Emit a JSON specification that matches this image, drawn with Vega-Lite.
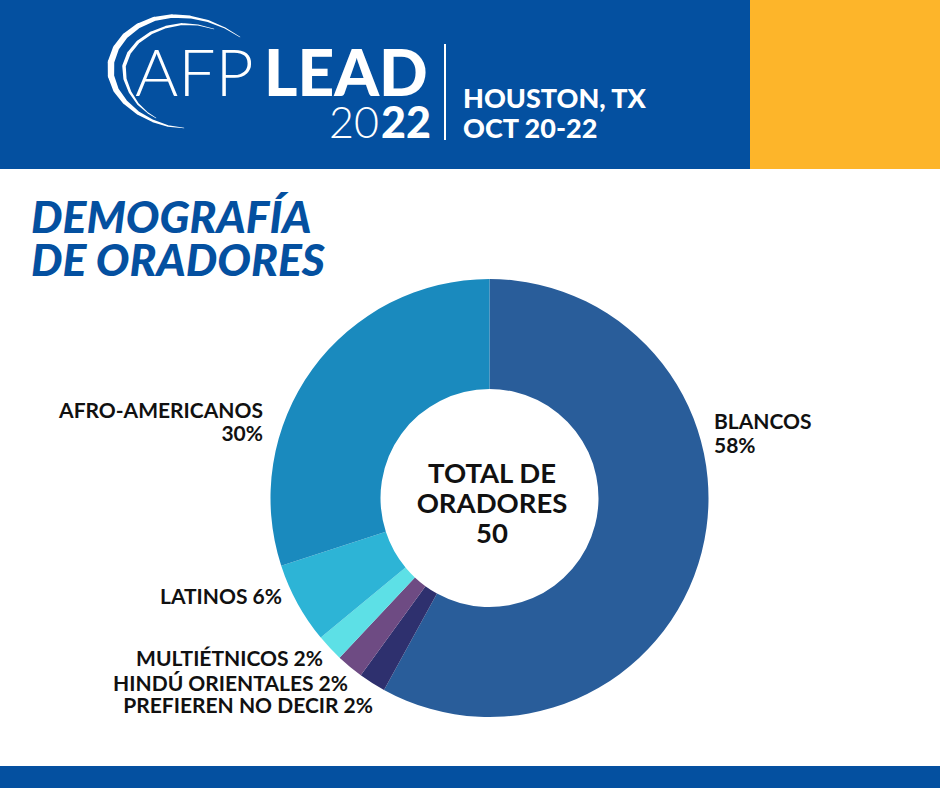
{
"$schema": "https://vega.github.io/schema/vega-lite/v6.json",
"width": 940, "height": 788,
"autosize": {"type": "fit", "contains": "padding"},
"padding": 0,
"background": "white",
"config": {"view": {"stroke": null}, "font": "Lato", "axis": {"disable": true}},
"datasets": {
 "oradores": [
  {"grupo": "BLANCOS", "valor": 0.58, "orden": 1, "etiqueta": ["BLANCOS", "58%"]},
  {"grupo": "PREFIEREN NO DECIR", "valor": 0.02, "orden": 2, "etiqueta": "PREFIEREN NO DECIR 2%"},
  {"grupo": "HINDÚ ORIENTALES", "valor": 0.02, "orden": 3, "etiqueta": "HINDÚ ORIENTALES 2%"},
  {"grupo": "MULTIÉTNICOS", "valor": 0.02, "orden": 4, "etiqueta": "MULTIÉTNICOS 2%"},
  {"grupo": "LATINOS", "valor": 0.06, "orden": 5, "etiqueta": "LATINOS 6%"},
  {"grupo": "AFRO-AMERICANOS", "valor": 0.30, "orden": 6, "etiqueta": ["AFRO-AMERICANOS", "30%"]}
 ],
 "logo": [
  {"trazo": "a", "i": 1, "px": 240, "py": 37, "w": 0.5},
  {"trazo": "a", "i": 2, "px": 225, "py": 28, "w": 1.2},
  {"trazo": "a", "i": 3, "px": 208, "py": 21, "w": 2},
  {"trazo": "a", "i": 4, "px": 190, "py": 17, "w": 2.8},
  {"trazo": "a", "i": 5, "px": 172, "py": 16, "w": 3.5},
  {"trazo": "a", "i": 6, "px": 154, "py": 19, "w": 4.2},
  {"trazo": "a", "i": 7, "px": 138, "py": 26, "w": 5},
  {"trazo": "a", "i": 8, "px": 125, "py": 36, "w": 5.6},
  {"trazo": "a", "i": 9, "px": 116, "py": 48, "w": 6.2},
  {"trazo": "a", "i": 10, "px": 111, "py": 62, "w": 6.5},
  {"trazo": "a", "i": 11, "px": 111, "py": 76, "w": 6.3},
  {"trazo": "a", "i": 12, "px": 116, "py": 90, "w": 5.6},
  {"trazo": "a", "i": 13, "px": 125, "py": 102, "w": 4.6},
  {"trazo": "a", "i": 14, "px": 138, "py": 113, "w": 3.5},
  {"trazo": "a", "i": 15, "px": 153, "py": 121, "w": 2.4},
  {"trazo": "a", "i": 16, "px": 168, "py": 126, "w": 1.4},
  {"trazo": "a", "i": 17, "px": 184, "py": 128, "w": 0.5},
  {"trazo": "b", "i": 1, "px": 214, "py": 29, "w": 0.5},
  {"trazo": "b", "i": 2, "px": 198, "py": 25, "w": 1.2},
  {"trazo": "b", "i": 3, "px": 182, "py": 24, "w": 1.8},
  {"trazo": "b", "i": 4, "px": 166, "py": 27, "w": 2.4},
  {"trazo": "b", "i": 5, "px": 151, "py": 33, "w": 2.8},
  {"trazo": "b", "i": 6, "px": 138, "py": 42, "w": 3.2},
  {"trazo": "b", "i": 7, "px": 129, "py": 53, "w": 3.5},
  {"trazo": "b", "i": 8, "px": 124, "py": 66, "w": 3.5},
  {"trazo": "b", "i": 9, "px": 125, "py": 79, "w": 3.2},
  {"trazo": "b", "i": 10, "px": 130, "py": 92, "w": 2.6},
  {"trazo": "b", "i": 11, "px": 138, "py": 104, "w": 1.8},
  {"trazo": "b", "i": 12, "px": 148, "py": 113, "w": 1},
  {"trazo": "b", "i": 13, "px": 156, "py": 118, "w": 0.5}
 ]
},
"layer": [
 {
  "data": {"values": [{}]},
  "mark": {"type": "rect", "color": "#0450A0"},
  "encoding": {
   "x": {"datum": 0, "type": "quantitative", "scale": {"domain": [0, 940], "nice": false, "zero": false}},
   "x2": {"datum": 750},
   "y": {"datum": 0, "type": "quantitative", "scale": {"domain": [0, 788], "nice": false, "zero": false, "reverse": true}},
   "y2": {"datum": 169}
  }
 },
 {
  "data": {"values": [{}]},
  "mark": {"type": "rect", "color": "#FDB52A"},
  "encoding": {
   "x": {"datum": 750, "type": "quantitative"}, "x2": {"datum": 940},
   "y": {"datum": 0, "type": "quantitative"}, "y2": {"datum": 169}
  }
 },
 {
  "data": {"values": [{}]},
  "mark": {"type": "rect", "color": "#0450A0"},
  "encoding": {
   "x": {"datum": 0, "type": "quantitative"}, "x2": {"datum": 940},
   "y": {"datum": 766, "type": "quantitative"}, "y2": {"datum": 788}
  }
 },
 {
  "data": {"name": "logo"},
  "mark": {"type": "trail", "color": "white"},
  "encoding": {
   "x": {"field": "px", "type": "quantitative"},
   "y": {"field": "py", "type": "quantitative"},
   "size": {"field": "w", "type": "quantitative", "scale": null},
   "detail": {"field": "trazo"},
   "order": {"field": "i"}
  }
 },
 {
  "data": {"values": [{}]},
  "mark": {"type": "text", "text": "AFP", "color": "white", "fontSize": 66, "fontWeight": 300, "align": "left", "baseline": "alphabetic"},
  "encoding": {"x": {"datum": 135, "type": "quantitative"}, "y": {"datum": 96, "type": "quantitative"}}
 },
 {
  "data": {"values": [{}]},
  "mark": {"type": "text", "text": "LEAD", "color": "white", "fontSize": 64, "fontWeight": 900, "align": "left", "baseline": "alphabetic"},
  "encoding": {"x": {"datum": 264, "type": "quantitative"}, "y": {"datum": 96, "type": "quantitative"}}
 },
 {
  "data": {"values": [{}]},
  "mark": {"type": "text", "text": "20", "color": "white", "fontSize": 43, "fontWeight": 300, "align": "left", "baseline": "alphabetic"},
  "encoding": {"x": {"datum": 329, "type": "quantitative"}, "y": {"datum": 138, "type": "quantitative"}}
 },
 {
  "data": {"values": [{}]},
  "mark": {"type": "text", "text": "22", "color": "white", "fontSize": 43, "fontWeight": 900, "align": "right", "baseline": "alphabetic"},
  "encoding": {"x": {"datum": 431, "type": "quantitative"}, "y": {"datum": 138, "type": "quantitative"}}
 },
 {
  "data": {"values": [{}]},
  "mark": {"type": "rule", "color": "white", "strokeWidth": 2},
  "encoding": {"x": {"datum": 445, "type": "quantitative"}, "y": {"datum": 44, "type": "quantitative"}, "y2": {"datum": 140}}
 },
 {
  "data": {"values": [{}]},
  "mark": {"type": "text", "text": ["HOUSTON, TX", "OCT 20-22"], "lineHeight": 30, "color": "white", "fontSize": 27, "fontWeight": 900, "align": "left", "baseline": "alphabetic"},
  "encoding": {"x": {"datum": 463, "type": "quantitative"}, "y": {"datum": 108, "type": "quantitative"}}
 },
 {
  "data": {"values": [{}]},
  "mark": {"type": "text", "text": ["DEMOGRAFÍA", "DE ORADORES"], "lineHeight": 43, "color": "#0450A0", "fontSize": 44.5, "fontWeight": 900, "fontStyle": "italic", "align": "left", "baseline": "alphabetic"},
  "encoding": {"x": {"datum": 31, "type": "quantitative"}, "y": {"datum": 233, "type": "quantitative"}}
 },
 {
  "data": {"name": "oradores"},
  "mark": {"type": "arc", "radius": 219, "radius2": 109, "stroke": null},
  "encoding": {
   "x": {"datum": 489.5, "type": "quantitative"},
   "y": {"datum": 498, "type": "quantitative"},
   "theta": {"field": "valor", "type": "quantitative", "stack": true},
   "order": {"field": "orden", "type": "quantitative"},
   "color": {"field": "grupo", "type": "nominal", "legend": null,
    "scale": {"domain": ["BLANCOS", "PREFIEREN NO DECIR", "HINDÚ ORIENTALES", "MULTIÉTNICOS", "LATINOS", "AFRO-AMERICANOS"],
              "range": ["#295D9A", "#2E306E", "#6E4B83", "#5DE0E6", "#2DB4D6", "#1A8ABE"]}}
  }
 },
 {
  "data": {"values": [{}]},
  "mark": {"type": "text", "text": ["TOTAL DE", "ORADORES", "50"], "lineHeight": 30, "color": "#111111", "fontSize": 27.5, "fontWeight": "bold", "align": "center", "baseline": "alphabetic"},
  "encoding": {"x": {"datum": 492, "type": "quantitative"}, "y": {"datum": 483, "type": "quantitative"}}
 },
 {
  "data": {"name": "oradores"},
  "transform": [{"filter": "datum.grupo == 'BLANCOS'"}],
  "mark": {"type": "text", "lineHeight": 24, "color": "#111111", "fontSize": 21, "fontWeight": "bold", "align": "left", "baseline": "alphabetic"},
  "encoding": {"text": {"field": "etiqueta"}, "x": {"datum": 714, "type": "quantitative"}, "y": {"datum": 429, "type": "quantitative"}}
 },
 {
  "data": {"name": "oradores"},
  "transform": [{"filter": "datum.grupo == 'AFRO-AMERICANOS'"}],
  "mark": {"type": "text", "lineHeight": 23, "color": "#111111", "fontSize": 21, "fontWeight": "bold", "align": "right", "baseline": "alphabetic"},
  "encoding": {"text": {"field": "etiqueta"}, "x": {"datum": 263, "type": "quantitative"}, "y": {"datum": 418, "type": "quantitative"}}
 },
 {
  "data": {"name": "oradores"},
  "transform": [{"filter": "datum.grupo == 'LATINOS'"}],
  "mark": {"type": "text", "color": "#111111", "fontSize": 21, "fontWeight": "bold", "align": "right", "baseline": "alphabetic"},
  "encoding": {"text": {"field": "etiqueta"}, "x": {"datum": 282, "type": "quantitative"}, "y": {"datum": 604, "type": "quantitative"}}
 },
 {
  "data": {"name": "oradores"},
  "transform": [{"filter": "datum.grupo == 'MULTIÉTNICOS'"}],
  "mark": {"type": "text", "color": "#111111", "fontSize": 21, "fontWeight": "bold", "align": "right", "baseline": "alphabetic"},
  "encoding": {"text": {"field": "etiqueta"}, "x": {"datum": 323, "type": "quantitative"}, "y": {"datum": 666, "type": "quantitative"}}
 },
 {
  "data": {"name": "oradores"},
  "transform": [{"filter": "datum.grupo == 'HINDÚ ORIENTALES'"}],
  "mark": {"type": "text", "color": "#111111", "fontSize": 21, "fontWeight": "bold", "align": "right", "baseline": "alphabetic"},
  "encoding": {"text": {"field": "etiqueta"}, "x": {"datum": 348, "type": "quantitative"}, "y": {"datum": 691, "type": "quantitative"}}
 },
 {
  "data": {"name": "oradores"},
  "transform": [{"filter": "datum.grupo == 'PREFIEREN NO DECIR'"}],
  "mark": {"type": "text", "color": "#111111", "fontSize": 21, "fontWeight": "bold", "align": "right", "baseline": "alphabetic"},
  "encoding": {"text": {"field": "etiqueta"}, "x": {"datum": 373, "type": "quantitative"}, "y": {"datum": 713, "type": "quantitative"}}
 }
]
}
